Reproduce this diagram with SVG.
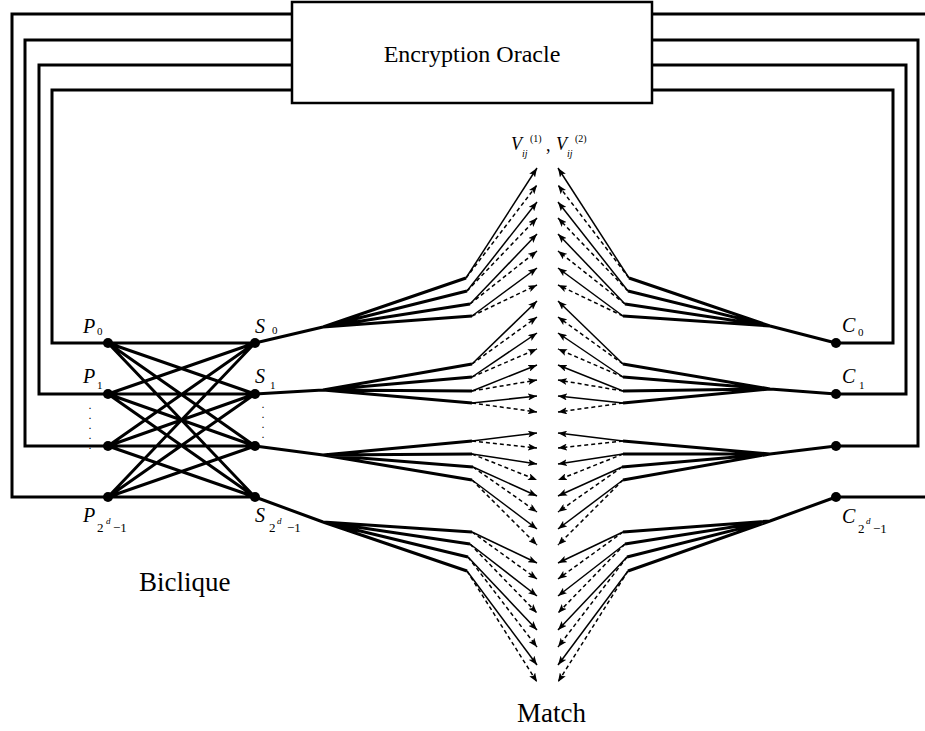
<svg xmlns="http://www.w3.org/2000/svg" width="925" height="731" viewBox="0 0 925 731">
<style>
.w{fill:none;stroke:#000;stroke-width:3}
.b{fill:none;stroke:#000;stroke-width:3}
.f{fill:none;stroke:#000;stroke-width:3}
.a{stroke:#000;stroke-width:1.5;marker-end:url(#ah)}
.d{stroke:#000;stroke-width:1.5;stroke-dasharray:4 3;marker-end:url(#ah)}
.n{fill:#000}
text{font-family:"Liberation Serif","Times New Roman",serif;fill:#000}
.it{font-style:italic;font-size:20px}
.sub{font-size:11px}
.sub2{font-size:13px}
.sup{font-style:italic;font-size:9px}
.big{font-size:27px}
.dots{font-size:8px;font-weight:bold}
</style>
<defs>
<marker id="ah" viewBox="0 0 9 7" refX="9" refY="3.5" markerWidth="9" markerHeight="7" markerUnits="userSpaceOnUse" orient="auto">
<path d="M0,0 L9,3.5 L0,7 L2,3.5 z" fill="#000"/>
</marker>
</defs>

<g id="oracle">
<rect x="292" y="2" width="360" height="101" fill="#fff" stroke="#000" stroke-width="2.5"/>
<text x="472" y="62" font-size="24" text-anchor="middle">Encryption Oracle</text>
</g>

<g id="connectors">
<g id="wires">
<path class="w" d="M108,497 H12 V14 H292"/>
<path class="w" d="M652,14 H925"/>
<path class="w" d="M836,497 H925"/>
<path class="w" d="M108,446 H25 V40 H292"/>
<path class="w" d="M652,40 H918 V446 H836"/>
<path class="w" d="M108,394 H39 V65 H292"/>
<path class="w" d="M652,65 H906 V394 H836"/>
<path class="w" d="M108,343 H52 V90 H292"/>
<path class="w" d="M652,90 H893 V343 H836"/>
</g>
<g id="biclique-edges">
<path class="b" d="M108,343 L255,343 M108,343 L255,394 M108,343 L255,446 M108,343 L255,497
M108,394 L255,343 M108,394 L255,394 M108,394 L255,446 M108,394 L255,497
M108,446 L255,343 M108,446 L255,394 M108,446 L255,446 M108,446 L255,497
M108,497 L255,343 M108,497 L255,394 M108,497 L255,446 M108,497 L255,497"/>
</g>
<g id="fans-left">
<path class="f" d="M255,343 L323,327 M323,327 L466,278 M323,327 L467,291 M323,327 L470,304 M323,327 L472,316"/>
<path class="f" d="M255,394 L323,390 M323,390 L472,364 M323,390 L472,377 M323,390 L472,391 M323,390 L472,403"/>
<path class="f" d="M255,446 L323,455 M323,455 L472,441 M323,455 L472,454 M323,455 L473,467 M323,455 L472,480"/>
<path class="f" d="M255,497 L323,522 M323,522 L472,532 M323,522 L470,544 M323,522 L468,557 M323,522 L467,571"/>
</g>
<g id="fans-right">
<path class="f" d="M836,343 L770,326 M770,326 L629,278 M770,326 L628,291 M770,326 L625,304 M770,326 L623,316"/>
<path class="f" d="M836,394 L770,389 M770,389 L623,364 M770,389 L623,377 M770,389 L623,391 M770,389 L623,403"/>
<path class="f" d="M836,446 L770,454 M770,454 L623,441 M770,454 L623,454 M770,454 L622,467 M770,454 L623,480"/>
<path class="f" d="M836,497 L770,521 M770,521 L623,532 M770,521 L625,544 M770,521 L627,557 M770,521 L628,571"/>
</g>
<g id="arrows-left">
<line class="a" x1="466" y1="278" x2="537" y2="168"/>
<line class="d" x1="466" y1="278" x2="537" y2="185"/>
<line class="a" x1="467" y1="291" x2="537" y2="202"/>
<line class="d" x1="467" y1="291" x2="537" y2="218"/>
<line class="a" x1="470" y1="304" x2="537" y2="234"/>
<line class="d" x1="470" y1="304" x2="537" y2="251"/>
<line class="a" x1="472" y1="316" x2="537" y2="268"/>
<line class="d" x1="472" y1="316" x2="537" y2="285"/>

<line class="a" x1="472" y1="364" x2="537" y2="301"/>
<line class="d" x1="472" y1="364" x2="537" y2="317"/>
<line class="a" x1="472" y1="377" x2="537" y2="333"/>
<line class="d" x1="472" y1="377" x2="537" y2="349"/>
<line class="a" x1="472" y1="391" x2="537" y2="365"/>
<line class="d" x1="472" y1="391" x2="537" y2="380"/>
<line class="a" x1="472" y1="403" x2="537" y2="396"/>
<line class="d" x1="472" y1="403" x2="537" y2="412"/>

<line class="a" x1="472" y1="441" x2="537" y2="433"/>
<line class="d" x1="472" y1="441" x2="537" y2="448"/>
<line class="a" x1="472" y1="454" x2="537" y2="464"/>
<line class="d" x1="472" y1="454" x2="537" y2="480"/>
<line class="a" x1="473" y1="467" x2="537" y2="496"/>
<line class="d" x1="473" y1="467" x2="537" y2="512"/>
<line class="a" x1="472" y1="480" x2="537" y2="529"/>
<line class="d" x1="472" y1="480" x2="537" y2="545"/>

<line class="a" x1="472" y1="532" x2="537" y2="563"/>
<line class="d" x1="472" y1="532" x2="537" y2="579"/>
<line class="a" x1="470" y1="544" x2="537" y2="596"/>
<line class="d" x1="470" y1="544" x2="537" y2="613"/>
<line class="a" x1="468" y1="557" x2="537" y2="630"/>
<line class="d" x1="468" y1="557" x2="537" y2="647"/>
<line class="a" x1="467" y1="571" x2="537" y2="665"/>
<line class="d" x1="467" y1="571" x2="537" y2="682"/>
</g>
<g id="arrows-right">
<line class="a" x1="629" y1="278" x2="558" y2="168"/>
<line class="d" x1="629" y1="278" x2="558" y2="185"/>
<line class="a" x1="628" y1="291" x2="558" y2="202"/>
<line class="d" x1="628" y1="291" x2="558" y2="218"/>
<line class="a" x1="625" y1="304" x2="558" y2="234"/>
<line class="d" x1="625" y1="304" x2="558" y2="251"/>
<line class="a" x1="623" y1="316" x2="558" y2="268"/>
<line class="d" x1="623" y1="316" x2="558" y2="285"/>

<line class="a" x1="623" y1="364" x2="558" y2="301"/>
<line class="d" x1="623" y1="364" x2="558" y2="317"/>
<line class="a" x1="623" y1="377" x2="558" y2="333"/>
<line class="d" x1="623" y1="377" x2="558" y2="349"/>
<line class="a" x1="623" y1="391" x2="558" y2="365"/>
<line class="d" x1="623" y1="391" x2="558" y2="380"/>
<line class="a" x1="623" y1="403" x2="558" y2="396"/>
<line class="d" x1="623" y1="403" x2="558" y2="412"/>

<line class="a" x1="623" y1="441" x2="558" y2="433"/>
<line class="d" x1="623" y1="441" x2="558" y2="448"/>
<line class="a" x1="623" y1="454" x2="558" y2="464"/>
<line class="d" x1="623" y1="454" x2="558" y2="480"/>
<line class="a" x1="622" y1="467" x2="558" y2="496"/>
<line class="d" x1="622" y1="467" x2="558" y2="512"/>
<line class="a" x1="623" y1="480" x2="558" y2="529"/>
<line class="d" x1="623" y1="480" x2="558" y2="545"/>

<line class="a" x1="623" y1="532" x2="558" y2="563"/>
<line class="d" x1="623" y1="532" x2="558" y2="579"/>
<line class="a" x1="625" y1="544" x2="558" y2="596"/>
<line class="d" x1="625" y1="544" x2="558" y2="613"/>
<line class="a" x1="627" y1="557" x2="558" y2="630"/>
<line class="d" x1="627" y1="557" x2="558" y2="647"/>
<line class="a" x1="628" y1="571" x2="558" y2="665"/>
<line class="d" x1="628" y1="571" x2="558" y2="682"/>
</g>
</g>

<g id="P0"><circle class="n" cx="108" cy="343" r="5"/><text class="it" x="83" y="333">P</text><text class="sub" x="97" y="335">0</text></g>
<g id="P1"><circle class="n" cx="108" cy="394" r="5"/><text class="it" x="83" y="383">P</text><text class="sub" x="97" y="389">1</text></g>
<g id="P2"><circle class="n" cx="108" cy="446" r="5"/></g>
<g id="P3"><circle class="n" cx="108" cy="497" r="5"/><text class="it" x="83" y="522">P</text><text class="sub2" x="97" y="532">2</text><text class="sup" x="106" y="524">d</text><text class="sub2" x="113" y="532">−1</text></g>

<g id="S0"><circle class="n" cx="255" cy="343" r="5"/><text class="it" x="255" y="333">S</text><text class="sub" x="272" y="334">0</text></g>
<g id="S1"><circle class="n" cx="255" cy="394" r="5"/><text class="it" x="255" y="383">S</text><text class="sub" x="270" y="389">1</text></g>
<g id="S2"><circle class="n" cx="255" cy="446" r="5"/></g>
<g id="S3"><circle class="n" cx="255" cy="497" r="5"/><text class="it" x="255" y="522">S</text><text class="sub2" x="269" y="532">2</text><text class="sup" x="277" y="524">d</text><text class="sub2" x="287" y="532">−1</text></g>

<g id="C0"><circle class="n" cx="836" cy="343" r="5"/><text class="it" x="842" y="332">C</text><text class="sub" x="858" y="336">0</text></g>
<g id="C1"><circle class="n" cx="836" cy="394" r="5"/><text class="it" x="842" y="383">C</text><text class="sub" x="859" y="389">1</text></g>
<g id="C2"><circle class="n" cx="836" cy="446" r="5"/></g>
<g id="C3"><circle class="n" cx="836" cy="497" r="5"/><text class="it" x="842" y="523">C</text><text class="sub2" x="858" y="533">2</text><text class="sup" x="866" y="524">d</text><text class="sub2" x="873" y="533">−1</text></g>

<g id="dots">
<text class="dots"><tspan x="89" y="409">.</tspan><tspan x="89" y="419">.</tspan><tspan x="89" y="429">.</tspan><tspan x="89" y="439">.</tspan><tspan x="89" y="449">.</tspan></text>
<text class="dots"><tspan x="262" y="408">.</tspan><tspan x="262" y="418">.</tspan><tspan x="262" y="428">.</tspan><tspan x="262" y="438">.</tspan></text>
</g>

<g id="V-label">
<text class="it" x="511" y="150" style="font-size:18px">V</text>
<text class="sup" x="522" y="157" style="font-size:10px">ij</text>
<text x="530" y="142" font-size="10">(1)</text>
<text x="546" y="151" font-size="18">,</text>
<text class="it" x="556" y="150" style="font-size:18px">V</text>
<text class="sup" x="567" y="157" style="font-size:10px">ij</text>
<text x="575" y="142" font-size="10">(2)</text>
</g>

<g id="labels">
<text class="big" x="139" y="591">Biclique</text>
<text class="big" x="517" y="722">Match</text>
</g>
</svg>
